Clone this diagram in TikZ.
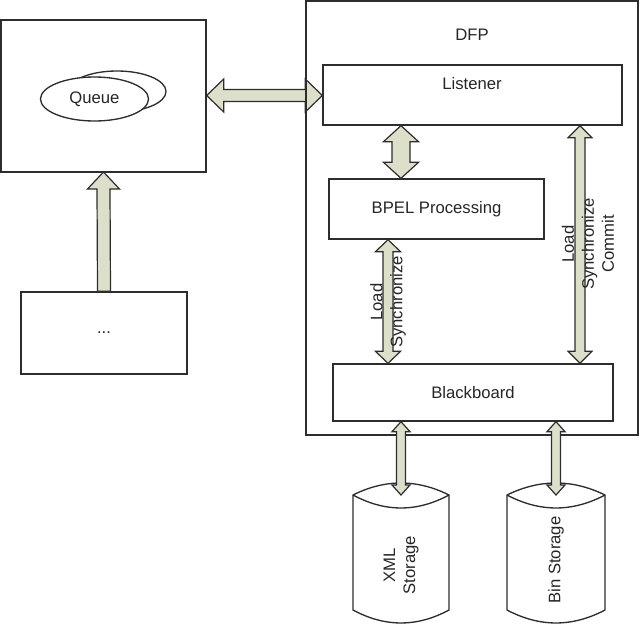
\documentclass[tikz,border=0pt]{standalone}
\usepackage{fontspec}
\setmainfont{Liberation Sans}
\usetikzlibrary{calc,shapes.geometric}
\definecolor{lc}{RGB}{45,45,45}
\definecolor{af}{RGB}{221,223,203}
\def\u{0.75pt}
% double vertical arrow: top tip, bottom tip, shaft half, head half, head length
\newcommand{\dblV}[5]{%
 \draw[arr] (#1) -- ++(#4,#5) -- ++({#3-#4},0) -- ($(#2)+(#3,-#5)$) -- ++({#4-#3},0) -- (#2)
   -- ++(-#4,-#5) -- ++({#4-#3},0) -- ($(#1)+(-#3,#5)$) -- ++({#3-#4},0) -- cycle;}
% double horizontal arrow: left tip, right tip, shaft half, head half, head length
\newcommand{\dblH}[5]{%
 \draw[arr] (#1) -- ++(#5,-#4) -- ++(0,{#4-#3}) -- ($(#2)+(-#5,-#3)$) -- ++(0,{#3-#4}) -- (#2)
   -- ++(-#5,#4) -- ++(0,{#3-#4}) -- ($(#1)+(#5,#3)$) -- ++(0,{#4-#3}) -- cycle;}
% single upward arrow: tip, tail, shaft half, head half, head length
\newcommand{\sglU}[5]{%
 \draw[arr] (#1) -- ++(#4,#5) -- ++({#3-#4},0) -- ($(#2)+(#3,0)$) -- ($(#2)+(-#3,0)$)
   -- ($(#1)+(-#3,#5)$) -- ++({#3-#4},0) -- cycle;}
\begin{document}
\begin{tikzpicture}[x=0.75pt,y=-0.75pt,
  box/.style={draw=lc,line width=1pt,inner sep=0pt,rectangle},
  arr/.style={draw=lc,line width=0.9pt,fill=af,line join=miter},
  line/.style={draw=lc,line width=1pt},
  txt/.style={font=\fontsize{12.5}{15}\selectfont,text=black!85,inner sep=0pt},
  vtxt/.style={txt,rotate=90,align=center}]
\useasboundingbox (0,0) rectangle (640,625);

% left part
\node[box,minimum width=205*\u,minimum height=152*\u] (qbox) at (103.5,96) {};
\node[draw=lc,line width=1pt,ellipse,minimum width=98*\u,minimum height=41*\u,inner sep=0pt] (qe2) at (117,91.5) {};
\node[draw=lc,line width=1pt,fill=white,ellipse,minimum width=108*\u,minimum height=44*\u,inner sep=0pt,txt] (qe) at (94.5,99) {Queue};
\node[box,minimum width=166*\u,minimum height=82*\u,txt] (dots) at (104,333) {...};
\sglU{103.5,172}{dots.north}{6.5}{16}{17}

% DFP
\node[box,minimum width=299*\u,minimum height=60*\u] (lis) at (472.5,95) {};
\node[txt] (listxt) at (472,84) {Listener};
\coordinate (ql) at (qbox.east |- 0,95.5);
\coordinate (lq) at (lis.west |- 0,95.5);
\dblH{ql}{lq}{6}{16.5}{17}
\node[box,minimum width=332*\u,minimum height=434*\u] (dfp) at (472,218) {};
\node[txt] (dfptxt) at (472,35) {DFP};
\node[box,minimum width=215*\u,minimum height=60*\u,txt] (bpel) at (436.5,209) {BPEL Processing};
\node[box,minimum width=280*\u,minimum height=57*\u,txt] (bb) at (473,392.5) {Blackboard};

\coordinate (lb1) at (401,0 |- lis.south);
\coordinate (lb2) at (401,0 |- bpel.north);
\dblV{lb1}{lb2}{9}{17.5}{16}

\coordinate (bb1) at (388,0 |- bpel.south);
\coordinate (bb2) at (388,0 |- bb.north);
\dblV{bb1}{bb2}{5}{12.5}{12}
\node[vtxt] (lbl1) at (388,302) {Load\\Synchronize};

\coordinate (lr1) at (580,0 |- lis.south);
\coordinate (lr2) at (580,0 |- bb.north);
\dblV{lr1}{lr2}{5}{12}{12}
\node[vtxt] (lbl2) at (588,244) {Load\\Synchronize\\Commit};

% storages
\draw[line] (353,495) .. controls (385,479) and (417,479) .. (449,495) -- (449,610)
  .. controls (417,627.3) and (385,627.3) .. (353,610) -- cycle;
\draw[line] (353,495) .. controls (385,512.3) and (417,512.3) .. (449,495);
\node[vtxt] (xmltxt) at (401,565) {XML\\Storage};
\coordinate (xmltop) at (401,495);

\draw[line] (507,495) .. controls (539.7,479) and (572.3,479) .. (605,495) -- (605,610)
  .. controls (572.3,627.3) and (539.7,627.3) .. (507,610) -- cycle;
\draw[line] (507,495) .. controls (539.7,512.3) and (572.3,512.3) .. (605,495);
\node[vtxt] (bintxt) at (556,560) {Bin Storage};
\coordinate (bintop) at (556,495);

\coordinate (bx1) at (401,0 |- bb.south);
\coordinate (bn1) at (556,0 |- bb.south);
\dblV{bx1}{xmltop}{4.5}{9}{10}
\dblV{bn1}{bintop}{4.5}{9}{10}
\end{tikzpicture}
\end{document}
